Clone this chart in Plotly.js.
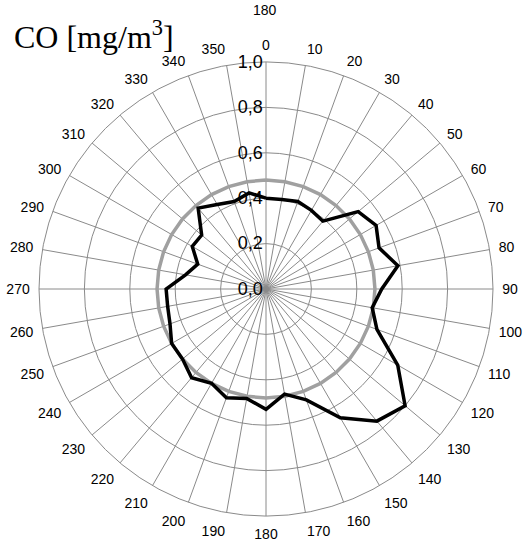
<!DOCTYPE html>
<html>
<head>
<meta charset="utf-8">
<script src="https://cdn.plot.ly/plotly-3.0.1.min.js"></script>
<style>html,body{margin:0;padding:0;background:#fff;}#chart{width:528px;height:544px;}</style>
</head>
<body>
<div id="chart"></div>
<script>
var directions = [0,10,20,30,40,50,60,70,80,90,100,110,120,130,140,150,160,170,180,190,200,210,220,230,240,250,260,270,280,290,300,310,320,330,340,350];
var coValues = [0.40,0.40,0.41,0.40,0.39,0.53,0.56,0.53,0.59,0.51,0.475,0.52,0.67,0.80,0.76,0.655,0.52,0.47,0.53,0.49,0.51,0.48,0.51,0.48,0.48,0.45,0.44,0.44,0.36,0.32,0.375,0.37,0.465,0.43,0.41,0.43];
var meanValues = [0.48,0.48,0.48,0.48,0.48,0.48,0.48,0.48,0.48,0.48,0.48,0.48,0.48,0.48,0.48,0.48,0.48,0.48,0.48,0.48,0.48,0.48,0.48,0.48,0.48,0.48,0.48,0.48,0.48,0.48,0.48,0.48,0.48,0.48,0.48,0.48];
var radialTicks = [0,0.2,0.4,0.6,0.8,1.0];
var titleText = 'CO [mg/m<sup>3</sup>]';

function closeLoop(a){ return a.concat([a[0]]); }

var traces = [
  {type:'scatterpolar', mode:'lines', theta:closeLoop(directions), r:closeLoop(meanValues),
   line:{color:'#a0a0a0', width:3.5}, hoverinfo:'skip', showlegend:false},
  {type:'scatterpolar', mode:'lines', theta:closeLoop(directions), r:closeLoop(coValues),
   line:{color:'#000000', width:3.5}, showlegend:false}
];

var layout = {
  width:528, height:544,
  margin:{l:0,r:0,t:0,b:0},
  paper_bgcolor:'#ffffff',
  separators:', ',
  font:{family:'"Liberation Sans", Arial, sans-serif', color:'#000', size:14},
  showlegend:false,
  polar:{
    domain:{x:[39/528, 493/528], y:[1-516/544, 1-62/544]},
    bgcolor:'#ffffff',
    angularaxis:{
      rotation:90, direction:'clockwise',
      tickmode:'array', tickvals:directions, ticktext:directions.map(String),
      showgrid:true, gridcolor:'#8a8a8a', gridwidth:1,
      showline:true, linecolor:'#8a8a8a', linewidth:1,
      ticks:'outside', ticklen:6, tickcolor:'rgba(0,0,0,0)',
      tickfont:{size:14, family:'"Liberation Sans", Arial, sans-serif', color:'#000'}
    },
    radialaxis:{
      range:[0,1], tickmode:'array', tickvals:radialTicks, tickformat:'.1f',
      angle:90, side:'counterclockwise', tickangle:90,
      showgrid:true, gridcolor:'#8a8a8a', gridwidth:1,
      showline:false, ticks:'',
      tickfont:{size:18, family:'"Liberation Sans", Arial, sans-serif', color:'#000'}
    }
  },
  annotations:[
    {text:titleText, xref:'paper', yref:'paper', x:12/528, y:1-13/544, xanchor:'left', yanchor:'top',
     showarrow:false, font:{family:'"Liberation Serif", "Times New Roman", serif', size:32, color:'#000'}},
    {text:'180', xref:'paper', yref:'paper', x:265/528, y:1-0/544, xanchor:'center', yanchor:'top',
     showarrow:false, font:{size:14, color:'#000'}}
  ]
};

Plotly.newPlot('chart', traces, layout, {displayModeBar:false, staticPlot:true});
</script>
</body>
</html>
